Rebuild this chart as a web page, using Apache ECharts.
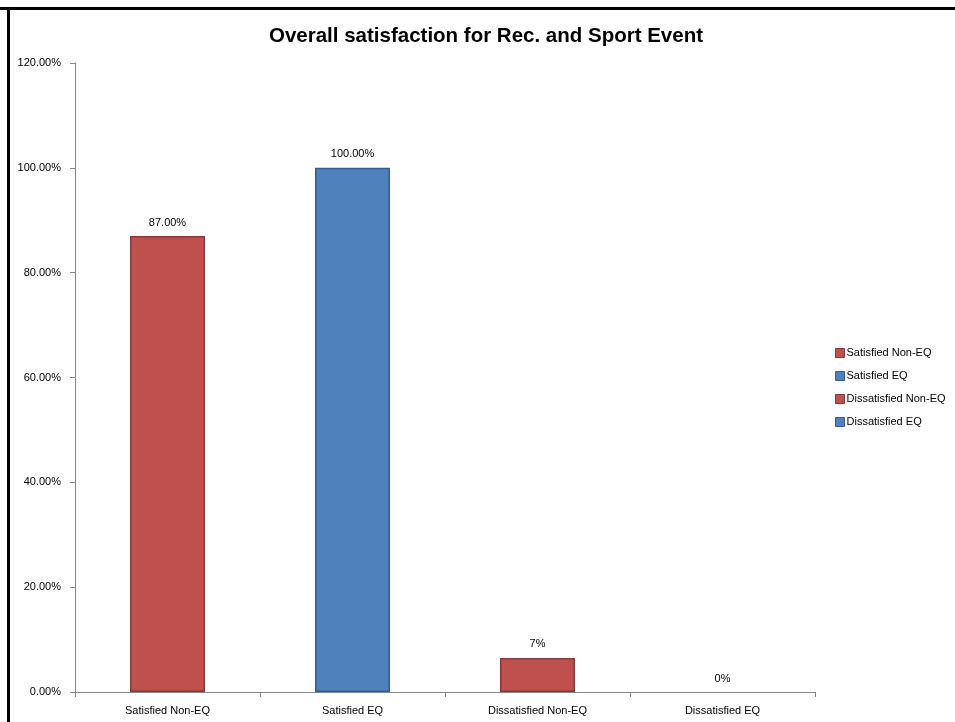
<!DOCTYPE html>
<html>
<head>
<meta charset="utf-8">
<script src="https://cdn.jsdelivr.net/npm/echarts@6/dist/echarts.min.js"></script>
<style>html,body{margin:0;padding:0;background:#fff;}#c{width:955px;height:722px;}</style>
</head>
<body>
<div id="c"></div>
<script>
var categories = ['Satisfied Non-EQ', 'Satisfied EQ', 'Dissatisfied Non-EQ', 'Dissatisfied EQ'];
var values = [87, 100, 6.5, 0];
var valueLabels = ['87.00%', '100.00%', '7%', '0%'];
var yTicks = [0, 20, 40, 60, 80, 100, 120];
var fills = ['#C0504D', '#4F81BD', '#C0504D', '#4F81BD'];
var edges = ['#8C3836', '#385D8A', '#8C3836', '#385D8A'];

var FONT = 'Liberation Sans';
var chart = echarts.init(document.getElementById('c'));
var series = categories.map(function (name, i) {
  var d = categories.map(function (c, j) { return j === i ? values[i] : '-'; });
  return {
    name: name,
    type: 'bar',
    data: d,
    barWidth: 75,
    barGap: '-100%',
    itemStyle: { color: fills[i], borderColor: edges[i], borderWidth: values[i] === 0 ? 0 : 1.5 },
    label: {
      show: true, position: 'top', distance: 8,
      fontFamily: FONT, fontSize: 11, color: '#000',
      formatter: function () { return valueLabels[i]; }
    }
  };
});
chart.setOption({
  animation: false,
  title: {
    text: 'Overall satisfaction for Rec. and Sport Event',
    left: 481, top: 21, textAlign: 'center',
    textStyle: { fontFamily: FONT, fontSize: 20.5, fontWeight: 'bold', color: '#000' }
  },
  legend: {
    orient: 'vertical', left: 830, top: 342,
    itemWidth: 9, itemHeight: 9, itemGap: 11,
    icon: 'rect',
    data: categories,
    textStyle: { fontFamily: FONT, fontSize: 11, color: '#000', padding: [0, 0, 0, -3], lineHeight: 12 },
    itemStyle: { borderWidth: 1 }
  },
  grid: { left: 75, right: 140, top: 63, bottom: 30 },
  xAxis: {
    type: 'category', data: categories,
    axisLine: { lineStyle: { color: '#868686', width: 1 } },
    axisTick: { show: true, length: 5, lineStyle: { color: '#868686' } },
    axisLabel: { fontFamily: FONT, fontSize: 11, color: '#000', margin: 13 }
  },
  yAxis: {
    type: 'value', min: 0, max: 120, interval: 20,
    axisLine: { show: true, lineStyle: { color: '#868686', width: 1 } },
    axisTick: { show: true, length: 5, lineStyle: { color: '#868686' } },
    splitLine: { show: false },
    axisLabel: {
      fontFamily: FONT, fontSize: 11, color: '#000', margin: 14,
      formatter: function (v) { return yTicks.indexOf(v) >= 0 ? v.toFixed(2) + '%' : ''; }
    }
  },
  graphic: [
    { type: 'rect', shape: { x: 0, y: 7, width: 955, height: 3 }, style: { fill: '#000' } },
    { type: 'rect', shape: { x: 7, y: 7, width: 3, height: 715 }, style: { fill: '#000' } }
  ],
  series: series
});
</script>
</body>
</html>
